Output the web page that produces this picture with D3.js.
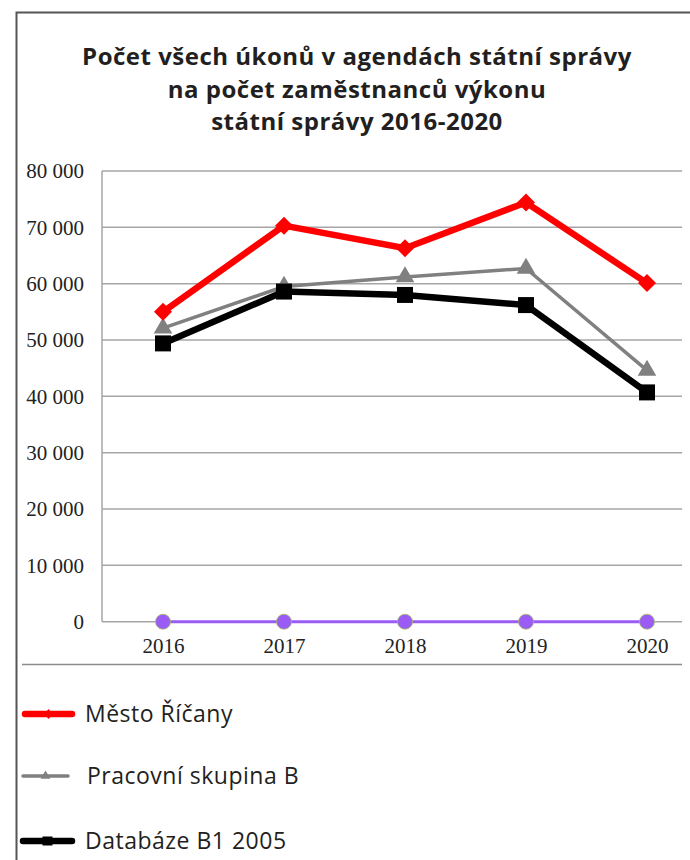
<!DOCTYPE html>
<html><head><meta charset="utf-8">
<script src="https://cdn.jsdelivr.net/npm/d3@7"></script>
<style>body{margin:0;background:#fff}svg{display:block}</style>
</head><body>
<svg id="c" width="690" height="860"></svg>
<script>
const titleLines = ["Počet všech úkonů v agendách státní správy", "na počet zaměstnanců výkonu", "státní správy 2016-2020"];
const years = ["2016", "2017", "2018", "2019", "2020"];
const yTicks = [0, 10000, 20000, 30000, 40000, 50000, 60000, 70000, 80000];
const seriesNames = ["Město Říčany", "Pracovní skupina B", "Databáze B1 2005", ""];
const mestoRicany = [55000, 70300, 66300, 74400, 60100];
const pracovniSkupinaB = [52100, 59500, 61200, 62700, 44600];
const databazeB1 = [49400, 58600, 58000, 56200, 40700];
const nulovaRada = [0, 0, 0, 0, 0];

const svg = d3.select("#c");
const serif = "'Liberation Serif','Times New Roman',serif";
const sans = "'Open Sans','Noto Sans',sans-serif";

// frame
svg.append("path").attr("d","M16.5,860 V12.5 H690").attr("fill","none").attr("stroke","#555").attr("stroke-width",2);

// title
svg.append("g").selectAll("text").data(titleLines).join("text")
  .attr("x",357).attr("y",(d,i)=>65+i*32.5).attr("text-anchor","middle")
  .attr("font-family",sans).attr("font-weight","bold").attr("font-size",24).attr("letter-spacing",0.5)
  .attr("fill","#231f20").text(d=>d);

const x = d3.scalePoint().domain(years).range([163,647]);
const y = d3.scaleLinear().domain([0,80000]).range([621.7,171]);
const left = 102, right = 682;

// gridlines
svg.append("g").selectAll("line").data(yTicks).join("line")
  .attr("x1",left).attr("x2",right).attr("y1",d=>y(d)).attr("y2",d=>y(d))
  .attr("stroke","#a6a6a6").attr("stroke-width",1.5);
svg.append("line").attr("x1",left).attr("x2",left).attr("y1",y(80000)).attr("y2",y(0)).attr("stroke","#a6a6a6").attr("stroke-width",1.5);

// y axis labels
const fmt = v => v === 0 ? "0" : d3.format(",")(v).replace(/,/g," ");
const yAxis = d3.axisLeft(y).tickValues(yTicks).tickFormat(fmt).tickSize(0).tickPadding(0);
const ya = svg.append("g").attr("transform","translate(84,0)").call(yAxis);
ya.select(".domain").remove();
ya.selectAll("text").attr("font-family",serif).attr("font-size",21).attr("fill","#222");

// x axis labels
const xAxis = d3.axisBottom(x).tickSize(0).tickPadding(0);
const xa = svg.append("g").attr("transform","translate(0,646)").call(xAxis);
xa.select(".domain").remove();
xa.selectAll("text").attr("font-family",serif).attr("font-size",21).attr("fill","#222").attr("dy","0.33em");

// bottom separator
svg.append("line").attr("x1",22).attr("x2",682).attr("y1",664.5).attr("y2",664.5).attr("stroke","#8c8c8c").attr("stroke-width",1.5);

const line = d3.line().x((d,i)=>x(years[i])).y(d=>y(d));

// purple zero series
svg.append("path").datum(nulovaRada).attr("d",line).attr("fill","none").attr("stroke","#9b5cf6").attr("stroke-width",3);
svg.append("g").selectAll("circle").data(nulovaRada).join("circle")
  .attr("cx",(d,i)=>x(years[i])).attr("cy",d=>y(d)).attr("r",7.5)
  .attr("fill","#9b5cf6").attr("stroke","#a7c060").attr("stroke-width",0.8);

// gray series
svg.append("path").datum(pracovniSkupinaB).attr("d",line).attr("fill","none").attr("stroke","#808080").attr("stroke-width",3.5);
svg.append("g").selectAll("path").data(pracovniSkupinaB).join("path")
  .attr("d",d3.symbol(d3.symbolTriangle,150)).attr("transform",(d,i)=>`translate(${x(years[i])},${y(d)})`).attr("fill","#808080");

// black series
svg.append("path").datum(databazeB1).attr("d",line).attr("fill","none").attr("stroke","#000").attr("stroke-width",6.5);
svg.append("g").selectAll("rect").data(databazeB1).join("rect")
  .attr("x",(d,i)=>x(years[i])-8).attr("y",d=>y(d)-8).attr("width",16).attr("height",16).attr("fill","#000");

// red series
svg.append("path").datum(mestoRicany).attr("d",line).attr("fill","none").attr("stroke","#ff0000").attr("stroke-width",6.5);
svg.append("g").selectAll("path").data(mestoRicany).join("path")
  .attr("d","M0,-9 L9,0 L0,9 L-9,0 Z").attr("transform",(d,i)=>`translate(${x(years[i])},${y(d)})`).attr("fill","#ff0000");

// legend
const leg = [
  {name: seriesNames[0], color:"#ff0000", w:6.5, y:714, x1:25, x2:72, tx:85, mark:"diamond"},
  {name: seriesNames[1], color:"#808080", w:3.5, y:776, x1:23, x2:68, tx:87, mark:"tri"},
  {name: seriesNames[2], color:"#000", w:6.5, y:841, x1:23, x2:72, tx:85, mark:"sq"}
];
const lg = svg.append("g").selectAll("g").data(leg).join("g");
lg.append("line").attr("x1",d=>d.x1).attr("x2",d=>d.x2).attr("y1",d=>d.y).attr("y2",d=>d.y)
  .attr("stroke",d=>d.color).attr("stroke-width",d=>d.w).attr("stroke-linecap","round");
lg.append("path").attr("d",d=> d.mark==="diamond" ? "M0,-5 L4,0 L0,5 L-4,0Z" : d.mark==="tri" ? d3.symbol(d3.symbolTriangle,40)() : "M-5,-4.5H5V4.5H-5Z")
  .attr("transform",d=>`translate(${(d.x1+d.x2)/2},${d.y})`).attr("fill",d=>d.color);
lg.append("text").attr("x",d=>d.tx).attr("y",d=>d.y).attr("dy","0.35em")
  .attr("font-family",sans).attr("font-size",23).attr("letter-spacing",0.5).attr("fill","#231f20").text(d=>d.name);
</script>
</body></html>
